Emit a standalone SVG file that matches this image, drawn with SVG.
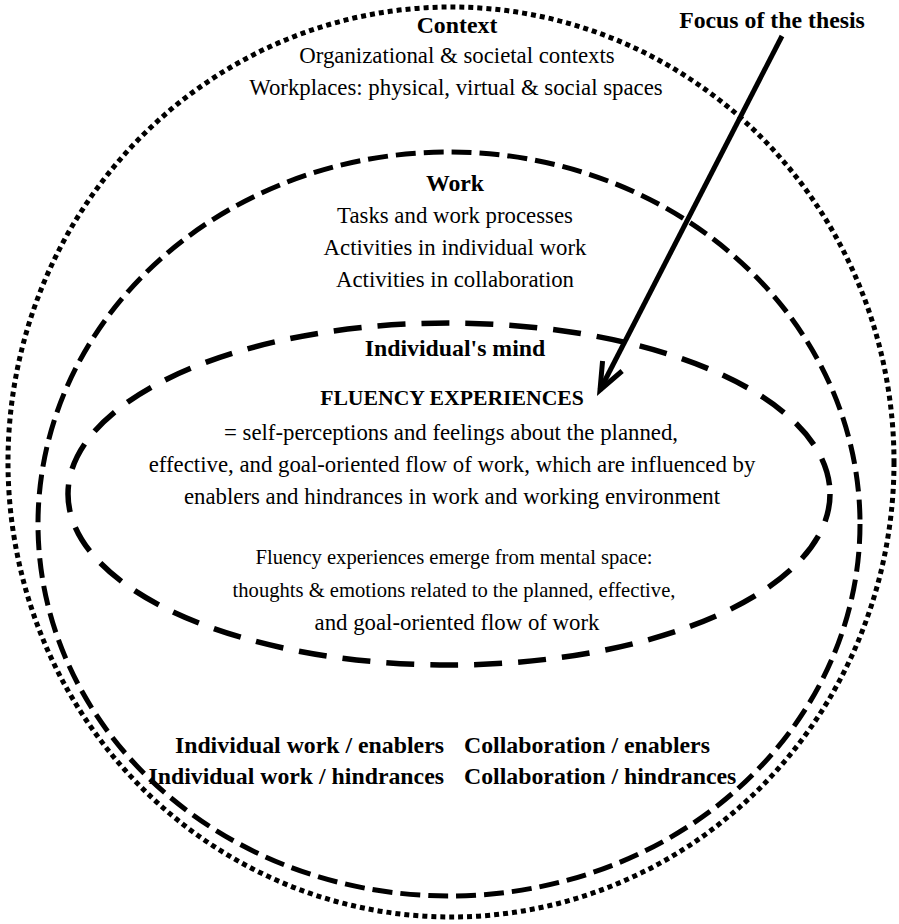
<svg xmlns="http://www.w3.org/2000/svg" width="899" height="924" viewBox="0 0 899 924">
<style>
.t{font-family:"Liberation Serif","Times New Roman",serif;font-size:22.8px;fill:#000;text-anchor:middle}
.b{font-weight:bold;font-size:23.8px}
.s{font-size:20.6px}
.dot{fill:none;stroke:#000;stroke-width:5;stroke-dasharray:5 4}
.dash1{fill:none;stroke:#000;stroke-width:5;stroke-dasharray:20 8}
.dash2{fill:none;stroke:#000;stroke-width:5.5;stroke-dasharray:28 16}
</style>
<defs>
<marker id="vhead" markerUnits="userSpaceOnUse" markerWidth="40" markerHeight="40" viewBox="-30 -20 40 40" refX="0" refY="0" orient="auto" overflow="visible">
<path d="M-27,-11 L0,0 L-27,11" fill="none" stroke="#000" stroke-width="5" stroke-linejoin="miter"/>
</marker>
</defs>
<rect width="899" height="924" fill="#fff"/>
<g id="context">
<ellipse class="dot" cx="451" cy="462" rx="443" ry="455"/>
<text class="t b" x="457" y="33">Context</text>
<text class="t" x="457" y="63">Organizational &amp; societal contexts</text>
<text class="t" x="456" y="95">Workplaces: physical, virtual &amp; social spaces</text>
</g>
<g id="work">
<ellipse class="dash1" cx="449" cy="524" rx="411" ry="372"/>
<text class="t b" x="455" y="191">Work</text>
<text class="t" x="455" y="223">Tasks and work processes</text>
<text class="t" x="455" y="255">Activities in individual work</text>
<text class="t" x="455" y="287">Activities in collaboration</text>
</g>
<g id="mind">
<ellipse class="dash2" cx="449" cy="494" rx="381" ry="171"/>
<text class="t b" x="455" y="356">Individual's mind</text>
<text class="t b" style="font-size:21.7px" x="452" y="405">FLUENCY EXPERIENCES</text>
<text class="t" x="451" y="440">= self-perceptions and feelings about the planned,</text>
<text class="t" x="452" y="472">effective, and goal-oriented flow of work, which are influenced by</text>
<text class="t" x="452" y="504">enablers and hindrances in work and working environment</text>
<text class="t s" x="454" y="564">Fluency experiences emerge from mental space:</text>
<text class="t s" x="454" y="597">thoughts &amp; emotions related to the planned, effective,</text>
<text class="t" x="457" y="630">and goal-oriented flow of work</text>
</g>
<g id="factors">
<text class="t b" style="text-anchor:end" x="444" y="753">Individual work / enablers</text>
<text class="t b" style="text-anchor:end" x="444" y="784">Individual work / hindrances</text>
<text class="t b" style="text-anchor:start" x="464" y="753">Collaboration / enablers</text>
<text class="t b" style="text-anchor:start" x="464" y="784">Collaboration / hindrances</text>
</g>
<g id="focus">
<text class="t b" x="772" y="28">Focus of the thesis</text>
</g>
<g id="connectors">
<line x1="782" y1="36" x2="600" y2="390" stroke="#000" stroke-width="5" marker-end="url(#vhead)"/>
</g>
</svg>
